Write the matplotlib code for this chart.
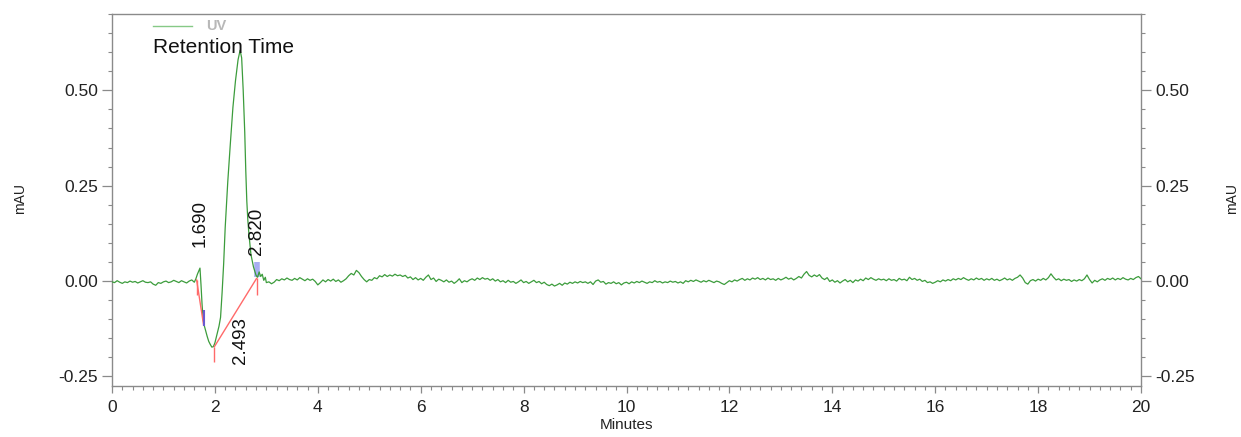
import numpy as np
import matplotlib
matplotlib.use("Agg")
import matplotlib.pyplot as plt
from matplotlib.ticker import MultipleLocator, FixedLocator, FormatStrFormatter

plt.rcParams['font.family'] = ['Liberation Sans', 'DejaVu Sans']

# ---------------- data ----------------
# baseline before the peak group (0.00 .. 1.55 min, step 0.05)
pre_time = np.round(np.arange(0.0, 1.56, 0.05), 2)
pre_vals = [-0.002, -0.004, 0.001, -0.003, -0.006, -0.002, -0.004, 0.000, -0.003, -0.001,
            -0.005, -0.002, 0.001, -0.003, -0.004, -0.002, -0.008, -0.011, -0.004, -0.006,
            -0.002, 0.000, -0.004, -0.002, 0.002, -0.001, -0.004, 0.001, -0.002, -0.005,
            0.000, 0.003]

# peak group (1.60 .. 2.98 min)
peak_time = [1.60, 1.63, 1.66, 1.69, 1.71, 1.73, 1.75, 1.77, 1.79, 1.82, 1.85, 1.88, 1.91,
             1.94, 1.97, 2.00, 2.04, 2.08, 2.11, 2.14, 2.17, 2.20, 2.25, 2.30, 2.35, 2.40,
             2.45, 2.49, 2.52, 2.55, 2.58, 2.60, 2.62, 2.64, 2.66, 2.70, 2.75, 2.80, 2.83,
             2.86, 2.89, 2.92, 2.95, 2.98]
peak_vals = [-0.003, 0.006, 0.018, 0.028, 0.034, -0.010, -0.060, -0.098, -0.115, -0.130,
             -0.145, -0.158, -0.166, -0.173, -0.172, -0.162, -0.140, -0.118, -0.095, -0.030,
             0.045, 0.140, 0.260, 0.360, 0.455, 0.525, 0.580, 0.605, 0.585, 0.500,
             0.390, 0.290, 0.210, 0.160, 0.125, 0.070, 0.037, 0.015, 0.010, 0.024,
             0.012, 0.018, 0.002, 0.010]

# baseline after the peak group (3.00 .. 20.00 min, step 0.05)
post_time = np.round(np.arange(3.0, 20.001, 0.05), 2)
post_vals = [
    -0.004, -0.002, -0.007, -0.003, 0.004, 0.001, 0.006, 0.003, 0.008, 0.004, 0.002, 0.007, 0.003, 0.009, 0.005, 0.001, 0.006, 0.002, 0.005, -0.001,
    -0.010, -0.004, 0.003, -0.002, 0.004, 0.000, 0.005, -0.001, 0.003, -0.003, 0.001, 0.006, 0.014, 0.020, 0.016, 0.028, 0.022, 0.012, 0.004, -0.002,
    0.004, 0.002, 0.009, 0.006, 0.014, 0.011, 0.017, 0.012, 0.016, 0.013, 0.018, 0.014, 0.016, 0.012, 0.015, 0.008, 0.011, 0.004, 0.009, 0.003,
    0.007, 0.002, 0.010, 0.016, 0.004, 0.008, -0.001, 0.005, 0.002, -0.002, 0.003, -0.003, 0.000, -0.006, -0.001, 0.006, -0.004, 0.001, -0.002, 0.003,
    0.006, 0.002, 0.008, 0.004, 0.009, 0.005, 0.007, 0.002, 0.006, 0.000, 0.004, -0.002, 0.001, -0.004, 0.002, -0.003, -0.001, -0.006, -0.002, 0.003,
    -0.004, -0.001, -0.006, -0.002, 0.002, -0.004, -0.001, -0.007, -0.003, -0.009, -0.012, -0.008, -0.013, -0.010, -0.006, -0.011, -0.005, -0.008, -0.003, -0.006,
    -0.002, -0.005, -0.001, -0.004, -0.002, -0.006, -0.002, -0.009, 0.000, 0.003, -0.003, -0.001, -0.008, -0.004, -0.006, -0.002, -0.007, -0.004, -0.010, -0.005,
    -0.003, -0.007, -0.002, -0.005, -0.001, -0.004, 0.000, -0.003, -0.006, -0.002, -0.004, 0.001, -0.003, -0.001, -0.005, -0.002, -0.004, 0.000, -0.003, -0.001,
    -0.005, -0.002, -0.006, 0.001, -0.002, 0.002, -0.001, 0.003, 0.000, -0.003, 0.001, -0.002, 0.002, -0.001, -0.004, 0.000, -0.002, -0.006, -0.009, -0.004,
    0.001, -0.002, 0.003, 0.000, 0.004, 0.007, 0.002, 0.006, 0.003, 0.008, 0.005, 0.009, 0.004, 0.007, 0.003, 0.008, 0.004, 0.006, 0.002, 0.007,
    0.003, 0.006, 0.010, 0.005, 0.008, 0.003, 0.007, 0.012, 0.008, 0.018, 0.025, 0.015, 0.011, 0.016, 0.012, 0.017, 0.008, 0.004, 0.009, -0.001,
    0.003, -0.003, 0.001, -0.005, 0.000, 0.004, -0.002, 0.002, -0.004, 0.003, 0.000, 0.005, 0.001, 0.008, 0.004, 0.009, 0.005, 0.002, 0.006, 0.003,
    0.005, 0.001, 0.006, 0.002, 0.004, 0.000, 0.007, 0.003, 0.005, 0.001, 0.010, 0.004, 0.007, 0.002, 0.005, -0.001, 0.002, -0.004, -0.002, -0.006,
    -0.003, 0.001, -0.002, 0.003, 0.000, 0.004, 0.001, 0.006, 0.003, 0.007, 0.004, 0.009, 0.005, 0.002, 0.006, 0.003, 0.008, 0.004, 0.007, 0.002,
    0.006, 0.003, 0.007, 0.002, 0.005, 0.001, 0.004, 0.008, 0.003, 0.006, 0.002, 0.007, 0.010, 0.016, 0.008, -0.004, -0.008, 0.001, 0.004, 0.000,
    0.005, 0.002, 0.007, 0.003, 0.009, 0.019, 0.010, 0.003, 0.006, 0.001, 0.005, 0.002, 0.004, -0.001, 0.003, 0.000, 0.004, 0.001, 0.006, 0.016,
    0.004, -0.005, 0.002, -0.002, 0.003, 0.006, 0.002, 0.007, 0.004, 0.008, 0.003, 0.007, 0.004, 0.009, 0.005, 0.003, 0.007, 0.004, 0.009, 0.012,
    0.006]

# integration baselines (time, value pairs) and event marks
base_seg1_t = [1.645, 1.78]
base_seg1_v = [0.003, -0.115]
base_seg2_t = [1.99, 2.81]
base_seg2_v = [-0.172, 0.007]
tick_marks_t = [1.645, 1.99, 2.81]
tick_marks_top = [0.003, -0.172, 0.008]
tick_marks_bot = [-0.037, -0.211, -0.037]

peak_labels = ["1.690", "2.493", "2.820"]
label_t = [1.71, 2.49, 2.81]
label_v = [0.089, -0.094, 0.068]
label_above = [True, False, True]

y_ticks = [-0.25, 0.0, 0.25, 0.5]

time = np.concatenate([pre_time, peak_time, post_time])
vals = np.concatenate([pre_vals, peak_vals, post_vals])

# ---------------- figure ----------------
W, H = 1241, 437
fig = plt.figure(figsize=(W / 100, H / 100), dpi=100)
ax = fig.add_axes([112 / W, 1 - 386 / H, (1141 - 112) / W, (386 - 14) / H])

green = '#3c9c3c'
ax.plot(time, vals, color=green, lw=0.9, zorder=3)

red = '#ff6a6a'
ax.plot(base_seg1_t, base_seg1_v, color=red, lw=1.0, zorder=4)
ax.plot(base_seg2_t, base_seg2_v, color=red, lw=1.0, zorder=4)
ax.vlines(tick_marks_t, tick_marks_bot, tick_marks_top, color=red, lw=1.0, zorder=4)
# event marks
ax.vlines([1.78], [-0.118], [-0.075], color='#6a5ad0', lw=1.5, zorder=5)
ax.vlines([2.82], [0.011], [0.050], color='#a8aef2', lw=4, zorder=2)

for lab, t, v, above in zip(peak_labels, label_t, label_v, label_above):
    ax.text(t, v, lab, rotation=90, ha='center', va='bottom' if above else 'top',
            fontsize=13.5, color='#111111', zorder=6)

ax.set_xlim(0, 20)
ax.set_ylim(-0.275, 0.70)

spine_c = '#8a8a8a'
for s in ax.spines.values():
    s.set_color(spine_c)
    s.set_linewidth(1.0)

ax.xaxis.set_major_locator(MultipleLocator(2))
ax.xaxis.set_minor_locator(MultipleLocator(0.2))
ax.yaxis.set_major_locator(FixedLocator(y_ticks))
ax.yaxis.set_minor_locator(MultipleLocator(0.05))
ax.yaxis.set_major_formatter(FormatStrFormatter('%.2f'))

ax.tick_params(axis='both', which='major', direction='out', length=7, width=0.9,
               color=spine_c, labelsize=12.5, labelcolor='#222222')
ax.tick_params(axis='both', which='minor', direction='out', length=3, width=0.8, color=spine_c)
ax.tick_params(axis='x', which='major', length=5, pad=5)
ax.tick_params(axis='y', which='major', pad=3)

ax2 = ax.twinx()
ax2.set_ylim(ax.get_ylim())
ax2.yaxis.set_major_locator(FixedLocator(y_ticks))
ax2.yaxis.set_minor_locator(MultipleLocator(0.05))
ax2.yaxis.set_major_formatter(FormatStrFormatter('%.2f'))
ax2.tick_params(axis='y', which='major', direction='out', length=7, width=0.9,
                color=spine_c, labelsize=12.5, labelcolor='#222222', pad=3)
ax2.tick_params(axis='y', which='minor', direction='out', length=3, width=0.8, color=spine_c)
for s in ax2.spines.values():
    s.set_visible(False)

ax.set_xlabel('Minutes', fontsize=11, color='#222222', labelpad=2)
fig.text(20 / W, 1 - 198 / H, 'mAU', rotation=90, fontsize=10, color='#222222',
         ha='center', va='center')
fig.text(1232 / W, 1 - 199 / H, 'mAU', rotation=90, fontsize=10, color='#222222',
         ha='center', va='center')

# legend-like header
ax.plot([0.79, 1.55], [0.668, 0.668], color='#86c986', lw=1.0, zorder=6)
ax.text(1.82, 0.668, 'UV', fontsize=10.5, fontweight='bold', color='#b8b8b8',
        va='center', ha='left', zorder=6)
ax.text(0.79, 0.613, 'Retention Time', fontsize=15, color='#111111',
        va='center', ha='left', zorder=6)

fig.savefig('out.png', dpi=100)
